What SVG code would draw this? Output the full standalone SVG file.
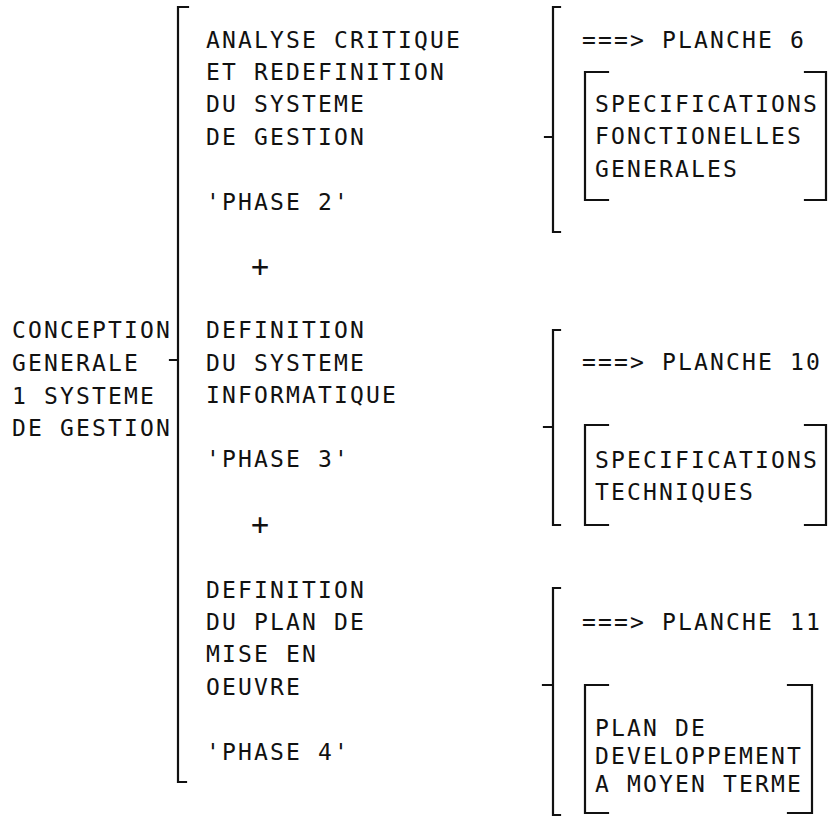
<svg xmlns="http://www.w3.org/2000/svg" width="829" height="817" viewBox="0 0 829 817">
<style>
text{font-family:"DejaVu Sans Mono","Liberation Mono",monospace;font-size:23px;letter-spacing:2.15px;fill:#111;white-space:pre}
.plus{font-size:30px;letter-spacing:0}
.br{fill:none;stroke:#111;stroke-width:2.2;stroke-linecap:square}
</style>
<rect width="829" height="817" fill="#fff"/>
<g id="connectors">
<path class="br" d="M188,7 H178 V782 H186 M178,360 H170"/>
<path class="br" d="M560,7 H553 V232 H560 M553,137 H545"/>
<path class="br" d="M560,330 H553 V525 H560 M553,427 H544"/>
<path class="br" d="M560,588 H553 V815 H560 M553,685 H543"/>
</g>
<g id="root">
<text x="12" y="338">CONCEPTION</text>
<text x="12" y="371">GENERALE</text>
<text x="12" y="404">1 SYSTEME</text>
<text x="12" y="436">DE GESTION</text>
</g>
<g id="phase2">
<text x="206" y="48">ANALYSE CRITIQUE</text>
<text x="206" y="80">ET REDEFINITION</text>
<text x="206" y="112">DU SYSTEME</text>
<text x="206" y="145">DE GESTION</text>
<text x="206" y="210">'PHASE 2'</text>
</g>
<g id="plus1"><text class="plus" x="251" y="277">+</text></g>
<g id="phase3">
<text x="206" y="338">DEFINITION</text>
<text x="206" y="371">DU SYSTEME</text>
<text x="206" y="403">INFORMATIQUE</text>
<text x="206" y="467">'PHASE 3'</text>
</g>
<g id="plus2"><text class="plus" x="251" y="535">+</text></g>
<g id="phase4">
<text x="206" y="598">DEFINITION</text>
<text x="206" y="630">DU PLAN DE</text>
<text x="206" y="662">MISE EN</text>
<text x="206" y="695">OEUVRE</text>
<text x="206" y="760">'PHASE 4'</text>
</g>
<g id="out2">
<text x="582" y="48">===&gt; PLANCHE 6</text>
<path class="br" d="M608,72 H585 V200 H608 M805,72 H826 V200 H805"/>
<text x="595" y="112">SPECIFICATIONS</text>
<text x="595" y="144">FONCTIONELLES</text>
<text x="595" y="177">GENERALES</text>
</g>
<g id="out3">
<text x="582" y="370">===&gt; PLANCHE 10</text>
<path class="br" d="M608,425 H585 V525 H608 M805,425 H826 V525 H805"/>
<text x="595" y="468">SPECIFICATIONS</text>
<text x="595" y="500">TECHNIQUES</text>
</g>
<g id="out4">
<text x="582" y="630">===&gt; PLANCHE 11</text>
<path class="br" d="M608,685 H585 V813 H608 M788,685 H812 V813 H788"/>
<text x="595" y="736">PLAN DE</text>
<text x="595" y="764">DEVELOPPEMENT</text>
<text x="595" y="792">A MOYEN TERME</text>
</g>
</svg>
